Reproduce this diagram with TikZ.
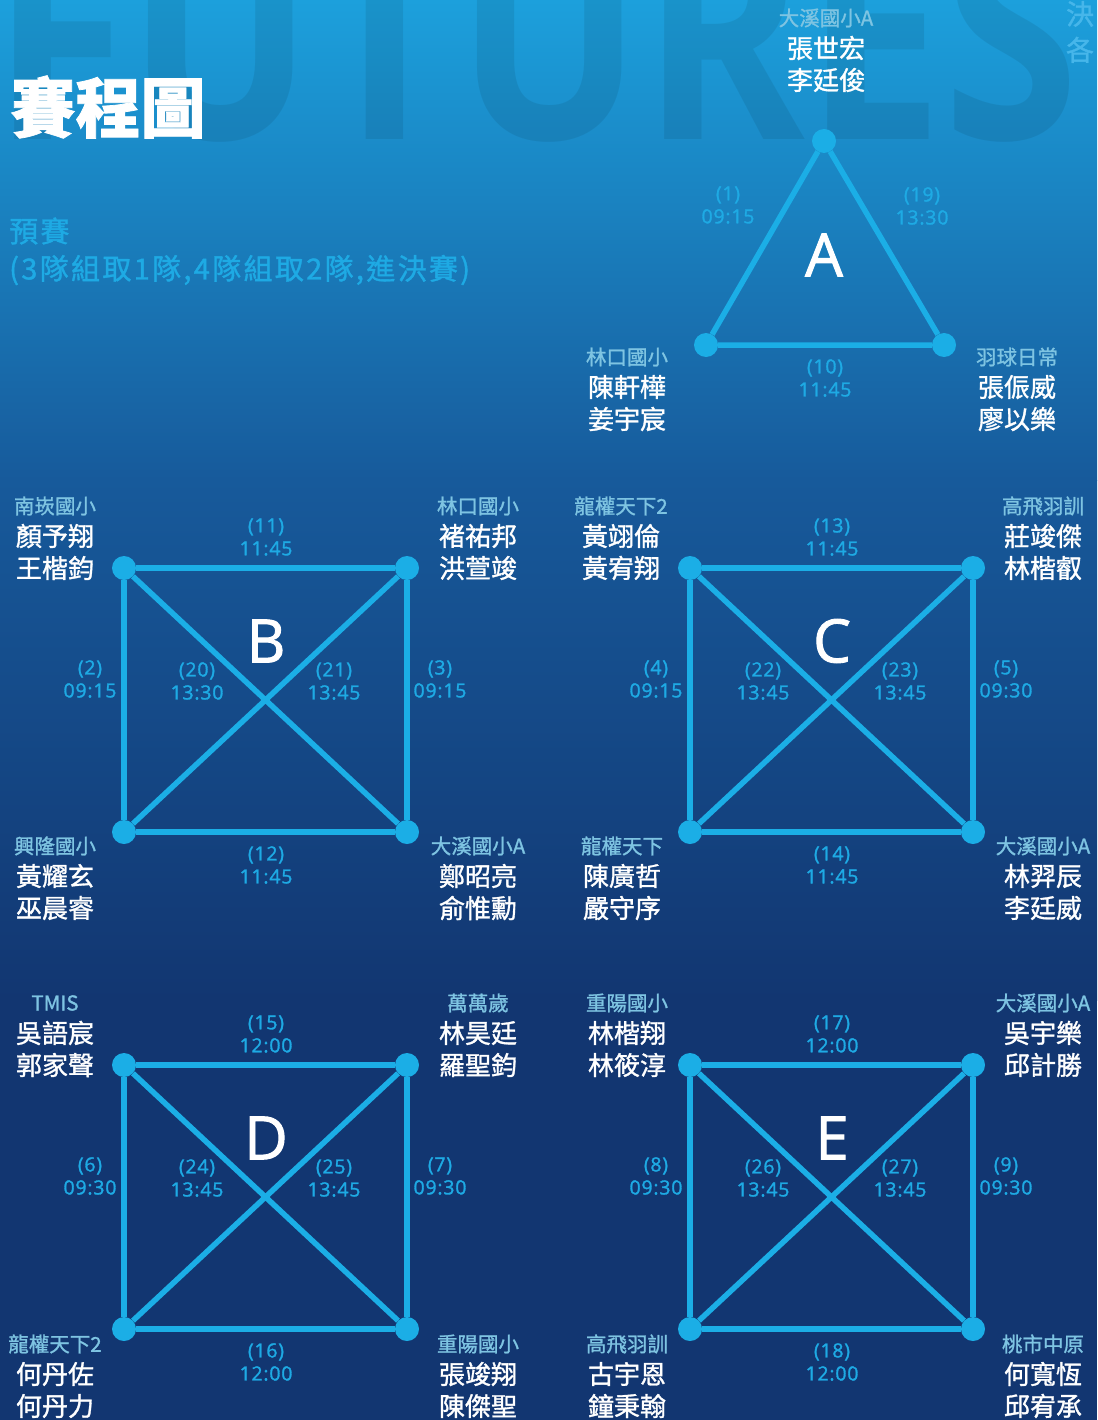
\documentclass[tikz,border=0pt]{standalone}
\usepackage{fontspec}
\usepackage{xcolor}
\usepackage{graphicx}
\setmainfont{Open Sans}
\newfontfamily\cjk{Noto Sans CJK TC}[FakeBold=1.2]
\newfontfamily\cjkw{Noto Sans CJK TC}[FakeBold=1.2, LetterSpace=8]
\newfontfamily\num{Open Sans}[FakeBold=1.5, LetterSpace=4]
\definecolor{bgtop}{RGB}{28,160,220}
\definecolor{bgmid}{RGB}{23,90,155}
\definecolor{bgbot}{RGB}{18,54,113}
\definecolor{line}{RGB}{27,174,230}
\definecolor{time}{RGB}{30,170,228}
\definecolor{school}{RGB}{126,196,226}
\definecolor{faint}{RGB}{70,182,234}
\newcommand{\team}[6]{%
  \node[school] (#1s) at (#2,#3) {#4};
  \node[player] (#1a) at (#2,#3+30) {#5};
  \node[player] (#1b) at (#2,#3+62) {#6};
}

\begin{document}
\begin{tikzpicture}[x=1pt,y=-1pt]

                \tikzstyle{vertex} = [circle, fill=line, minimum size=24pt, inner sep=0pt]
                \tikzstyle{edge}   = [draw=line, line width=5.5pt]
                \tikzstyle{school} = [text=school, inner sep=0pt, font=\cjk\fontsize{20.5}{24}\selectfont]
                \tikzstyle{player} = [text=white, inner sep=0pt, font=\cjk\fontsize{26}{30}\selectfont]
                \tikzstyle{time}   = [text=time, align=center, inner sep=0pt, font=\num\fontsize{19.5}{23}\selectfont]
                \tikzstyle{grp}    = [text=white, inner sep=0pt, font=\num\fontsize{60}{60}\selectfont]

                \useasboundingbox (0,0) rectangle (1097,1420);
                \clip (0,0) rectangle (1097,1420);
                \shade [top color=bgtop, bottom color=bgmid] (0,0) rectangle (1097,480);
                \shade [top color=bgmid, bottom color=bgbot] (0,480) rectangle (1097,1000);
                \fill [bgbot] (0,999) rectangle (1097,1420);

                % watermark
                \node [anchor=base west, inner sep=0pt, text=black, text opacity=0.08] (wm) at (-8,140)
                        {\scalebox{0.85}[1]{\fontsize{290}{290}\selectfont\bfseries FUTURES}};
                \node [align=center, inner sep=0pt, text=faint, font=\cjk\fontsize{28}{36}\selectfont] (side) at (1080,32) {決\\各};

                \node [text=white, inner sep=0pt, font=\cjk\bfseries\fontsize{65}{70}\selectfont] (title) at (108,107) {賽程圖};
                \node [anchor=west, text=time, inner sep=0pt, font=\cjkw\fontsize{29}{32}\selectfont] (pre) at (9,231) {預賽};
                \node [anchor=west, text=time, inner sep=0pt, font=\cjkw\fontsize{29}{32}\selectfont] (rule) at (9,270) {(3隊組取1隊,4隊組取2隊,進決賽)};

                % group A
                \node [vertex] (vA1) at (824,141) {};
                \node [vertex] (vA2) at (706,345) {};
                \node [vertex] (vA3) at (944,345) {};
                \draw [edge] (vA1) -- (vA2) -- (vA3) -- (vA1);
                \node [grp] (gA) at (824,255) {A};
                \node [time] (m1) at (728,205) {(1)\\09:15};
                \node [time] (m19) at (922,206) {(19)\\13:30};
                \node [time] (m10) at (825,378) {(10)\\11:45};

                % groups B to E
                \foreach \g/\gx/\gy/\ntop/\ttop/\nbot/\tbot/\nlft/\tlft/\nrgt/\trgt/\ndl/\tdl/\ndr/\tdr in
                        {B/124/568/11/11:45/12/11:45/2/09:15/3/09:15/20/13:30/21/13:45,
                         C/690/568/13/11:45/14/11:45/4/09:15/5/09:30/22/13:45/23/13:45,
                         D/124/1065/15/12:00/16/12:00/6/09:30/7/09:30/24/13:45/25/13:45,
                         E/690/1065/17/12:00/18/12:00/8/09:30/9/09:30/26/13:45/27/13:45}
                {
                \begin{scope}[shift={(\gx,\gy)}]
                        \node [vertex] (v\g1) at (0,0) {};
                        \node [vertex] (v\g2) at (283,0) {};
                        \node [vertex] (v\g3) at (0,264) {};
                        \node [vertex] (v\g4) at (283,264) {};

                        \draw [edge] (v\g1) -- (v\g2) -- (v\g4) -- (v\g3) -- (v\g1);
                        \draw [edge] (v\g1) -- (v\g4);
                        \draw [edge] (v\g2) -- (v\g3);

                        \node [grp] (g\g) at (142,73) {\g};
                        \node [time] (m\ntop) at (142,-31) {(\ntop)\\\ttop};
                        \node [time] (m\nbot) at (142,297) {(\nbot)\\\tbot};
                        \node [time] (m\nlft) at (-34,111) {(\nlft)\\\tlft};
                        \node [time] (m\nrgt) at (316,111) {(\nrgt)\\\trgt};
                        \node [time] (m\ndl) at (73,113) {(\ndl)\\\tdl};
                        \node [time] (m\ndr) at (210,113) {(\ndr)\\\tdr};
                \end{scope}
                }

                % teams
                \team{tA1}{826}{18}{大溪國小A}{張世宏}{李廷俊}
                \team{tA2}{627}{357}{林口國小}{陳軒樺}{姜宇宸}
                \team{tA3}{1017}{357}{羽球日常}{張侲威}{廖以樂}

                \team{tB1}{55}{506}{南崁國小}{顏予翔}{王楷鈞}
                \team{tB2}{478}{506}{林口國小}{褚祐邦}{洪萱竣}
                \team{tB3}{55}{846}{興隆國小}{黃耀玄}{巫晨睿}
                \team{tB4}{478}{846}{大溪國小A}{鄭昭亮}{俞惟勳}

                \team{tC1}{621}{506}{龍權天下2}{黃翊倫}{黃宥翔}
                \team{tC2}{1043}{506}{高飛羽訓}{莊竣傑}{林楷叡}
                \team{tC3}{622}{846}{龍權天下}{陳廣哲}{嚴守序}
                \team{tC4}{1043}{846}{大溪國小A}{林羿辰}{李廷威}

                \team{tD1}{55}{1003}{TMIS}{吳語宸}{郭家聲}
                \team{tD2}{478}{1003}{萬萬歲}{林昊廷}{羅聖鈞}
                \team{tD3}{55}{1344}{龍權天下2}{何丹佐}{何丹力}
                \team{tD4}{478}{1344}{重陽國小}{張竣翔}{陳傑聖}

                \team{tE1}{627}{1003}{重陽國小}{林楷翔}{林筱淳}
                \team{tE2}{1043}{1003}{大溪國小A}{吳宇樂}{邱計勝}
                \team{tE3}{627}{1344}{高飛羽訓}{古宇恩}{鐘秉翰}
                \team{tE4}{1043}{1344}{桃市中原}{何寬恆}{邱宥承}

\end{tikzpicture}
\end{document}
